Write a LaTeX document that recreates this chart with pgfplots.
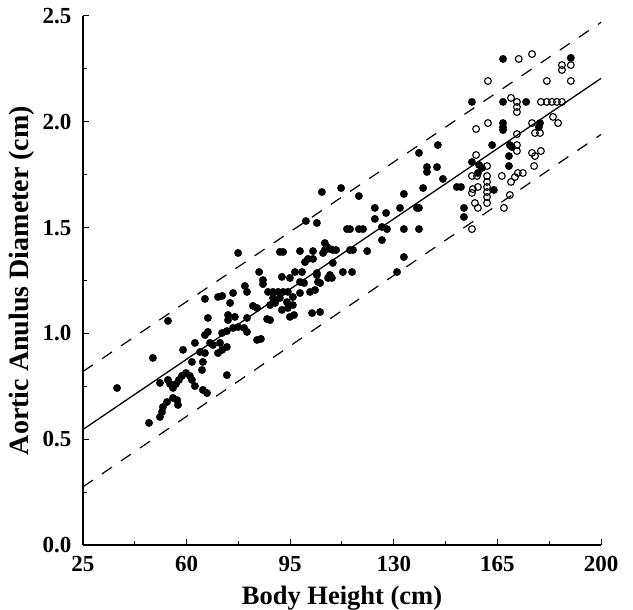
\documentclass[border=0pt]{standalone}
\usepackage{fontspec}
\setmainfont{Liberation Serif}
\usepackage{pgfplots}
\pgfplotsset{compat=1.18}
\usepackage{pgfplotstable}

% filled circles
\pgfplotstableread{
x y
36.5 0.742
47.3 0.577
48.6 0.884
53.7 1.059
51.0 0.766
51.0 0.605
51.7 0.629
52.0 0.652
53.4 0.676
55.4 0.695
56.8 0.685
57.1 0.662
53.7 0.780
54.4 0.761
55.4 0.742
56.4 0.761
57.4 0.780
58.4 0.799
59.8 0.813
61.1 0.799
61.8 0.780
62.8 0.751
65.5 0.733
66.9 0.718
58.8 0.922
61.8 0.865
65.5 0.865
65.2 0.827
62.8 0.955
64.5 0.912
66.2 0.907
67.9 0.955
70.6 0.907
72.0 0.922
73.6 0.936
73.6 0.803
66.2 0.992
67.2 1.007
67.2 1.073
66.2 1.163
70.6 1.172
72.0 1.177
68.9 0.945
71.3 0.955
72.0 1.002
73.6 1.011
75.7 1.026
77.4 1.030
79.4 1.026
80.4 1.007
74.0 1.087
76.3 1.078
74.0 1.063
80.4 1.073
83.8 0.969
85.1 0.974
75.7 1.191
77.4 1.380
79.7 1.224
80.4 1.196
74.7 1.144
82.4 1.130
83.8 1.120
84.5 1.290
85.8 1.252
85.8 1.233
87.2 1.068
88.2 1.063
87.5 1.196
89.2 1.196
90.9 1.196
92.6 1.196
94.2 1.196
89.2 1.167
91.5 1.167
93.9 1.148
95.9 1.172
98.3 1.191
88.2 1.134
89.9 1.144
92.2 1.111
94.2 1.120
95.9 1.134
94.9 1.078
96.3 1.087
102.4 1.096
105.1 1.101
92.2 1.267
94.9 1.262
96.6 1.290
99.0 1.290
98.3 1.243
99.7 1.238
104.0 1.285
104.4 1.243
101.7 1.196
103.4 1.205
105.1 1.238
107.8 1.262
91.5 1.385
92.6 1.385
98.3 1.389
102.7 1.389
106.1 1.380
100.0 1.337
101.0 1.352
102.7 1.352
106.7 1.427
107.4 1.408
100.3 1.531
104.0 1.522
105.7 1.668
112.2 1.687
118.2 1.649
123.6 1.593
127.4 1.569
132.1 1.593
137.8 1.593
138.5 1.593
123.6 1.541
114.2 1.493
115.2 1.493
118.2 1.493
119.6 1.493
126.0 1.503
127.7 1.493
133.4 1.493
138.5 1.493
126.0 1.441
108.4 1.399
106.7 1.394
109.4 1.394
110.5 1.394
115.2 1.394
116.2 1.394
121.0 1.389
133.4 1.361
109.4 1.333
104.0 1.276
108.4 1.276
109.1 1.262
112.8 1.290
115.9 1.290
131.1 1.290
144.9 1.890
138.5 1.853
141.2 1.786
141.2 1.763
144.6 1.786
146.6 1.730
139.9 1.687
133.4 1.659
151.3 1.692
152.7 1.692
156.4 2.094
166.9 2.094
166.9 2.297
174.7 2.094
189.8 2.302
166.9 1.994
166.9 1.975
166.9 1.961
179.4 1.994
179.0 1.975
163.2 1.890
169.2 1.890
169.9 1.881
168.9 1.838
156.4 1.810
158.8 1.796
159.8 1.782
168.9 1.791
158.4 1.758
163.8 1.678
153.7 1.593
153.7 1.550
}\filled

% open circles
\pgfplotstableread{
x y
172.2 2.297
176.7 2.320
186.8 2.268
186.8 2.245
189.8 2.268
161.8 2.193
181.7 2.193
189.8 2.193
169.6 2.113
171.6 2.094
171.6 2.070
171.6 2.046
179.7 2.094
181.7 2.094
183.4 2.094
185.1 2.094
186.8 2.094
183.8 2.023
185.5 1.994
157.8 1.966
161.8 1.994
176.7 1.994
171.6 1.942
177.7 1.947
179.4 1.947
171.6 1.890
171.6 1.862
157.8 1.843
161.5 1.791
176.7 1.853
177.7 1.838
179.7 1.862
177.4 1.791
156.4 1.744
158.1 1.744
161.5 1.744
161.5 1.716
161.5 1.692
161.5 1.668
161.5 1.645
161.5 1.616
156.7 1.682
156.4 1.664
158.4 1.692
157.4 1.616
158.4 1.593
166.5 1.744
169.6 1.716
170.9 1.739
171.9 1.758
173.6 1.758
169.2 1.654
167.2 1.593
156.4 1.493
}\opened

\begin{document}
\begin{tikzpicture}
\path[use as bounding box] (-83pt,-65pt) rectangle (550pt,545pt);
\begin{axis}[
    scale only axis,
    width=518pt, height=529pt,
    xmin=25, xmax=200, ymin=0, ymax=2.5,
    axis lines=left,
    axis line style={-, line width=1.2pt},
    tick align=inside,
    xtick={25,60,95,130,165,200},
    ytick={0,0.5,1,1.5,2,2.5},
    minor x tick num=1,
    minor y tick num=1,
    major tick length=6pt,
    minor tick length=4pt,
    tick style={line width=1pt, black},
    /pgf/number format/assume math mode=true,
    ticklabel style={font=\fontsize{23}{26}\selectfont\bfseries},
    yticklabel style={/pgf/number format/fixed, /pgf/number format/fixed zerofill, /pgf/number format/precision=1, xshift=-8pt},
    xticklabel style={yshift=-8pt},
    xlabel={Body Height (cm)},
    ylabel={Aortic Anulus Diameter (cm)},
    xlabel style={font=\fontsize{26.5}{30}\selectfont\bfseries, at={(axis description cs:0.5,0)}, anchor=base, yshift=-60pt},
    ylabel style={font=\fontsize{28}{32}\selectfont\bfseries, at={(axis description cs:0,0.5)}, anchor=center, yshift=61pt},
    clip=false,
]
\addplot[black, line width=1.3pt] coordinates {(25,0.546) (200,2.205)};
\addplot[black, line width=1.2pt, dash pattern=on 12pt off 11pt] coordinates {(25,0.82) (200,2.47)};
\addplot[black, line width=1.2pt, dash pattern=on 12pt off 11pt] coordinates {(25,0.275) (200,1.94)};
\addplot[only marks, mark=*, mark size=3.7pt, black] table {\filled};
\addplot[only marks, mark=o, mark size=3.4pt, black, mark options={line width=1.1pt, fill=white}] table {\opened};
\end{axis}
\end{tikzpicture}
\end{document}
